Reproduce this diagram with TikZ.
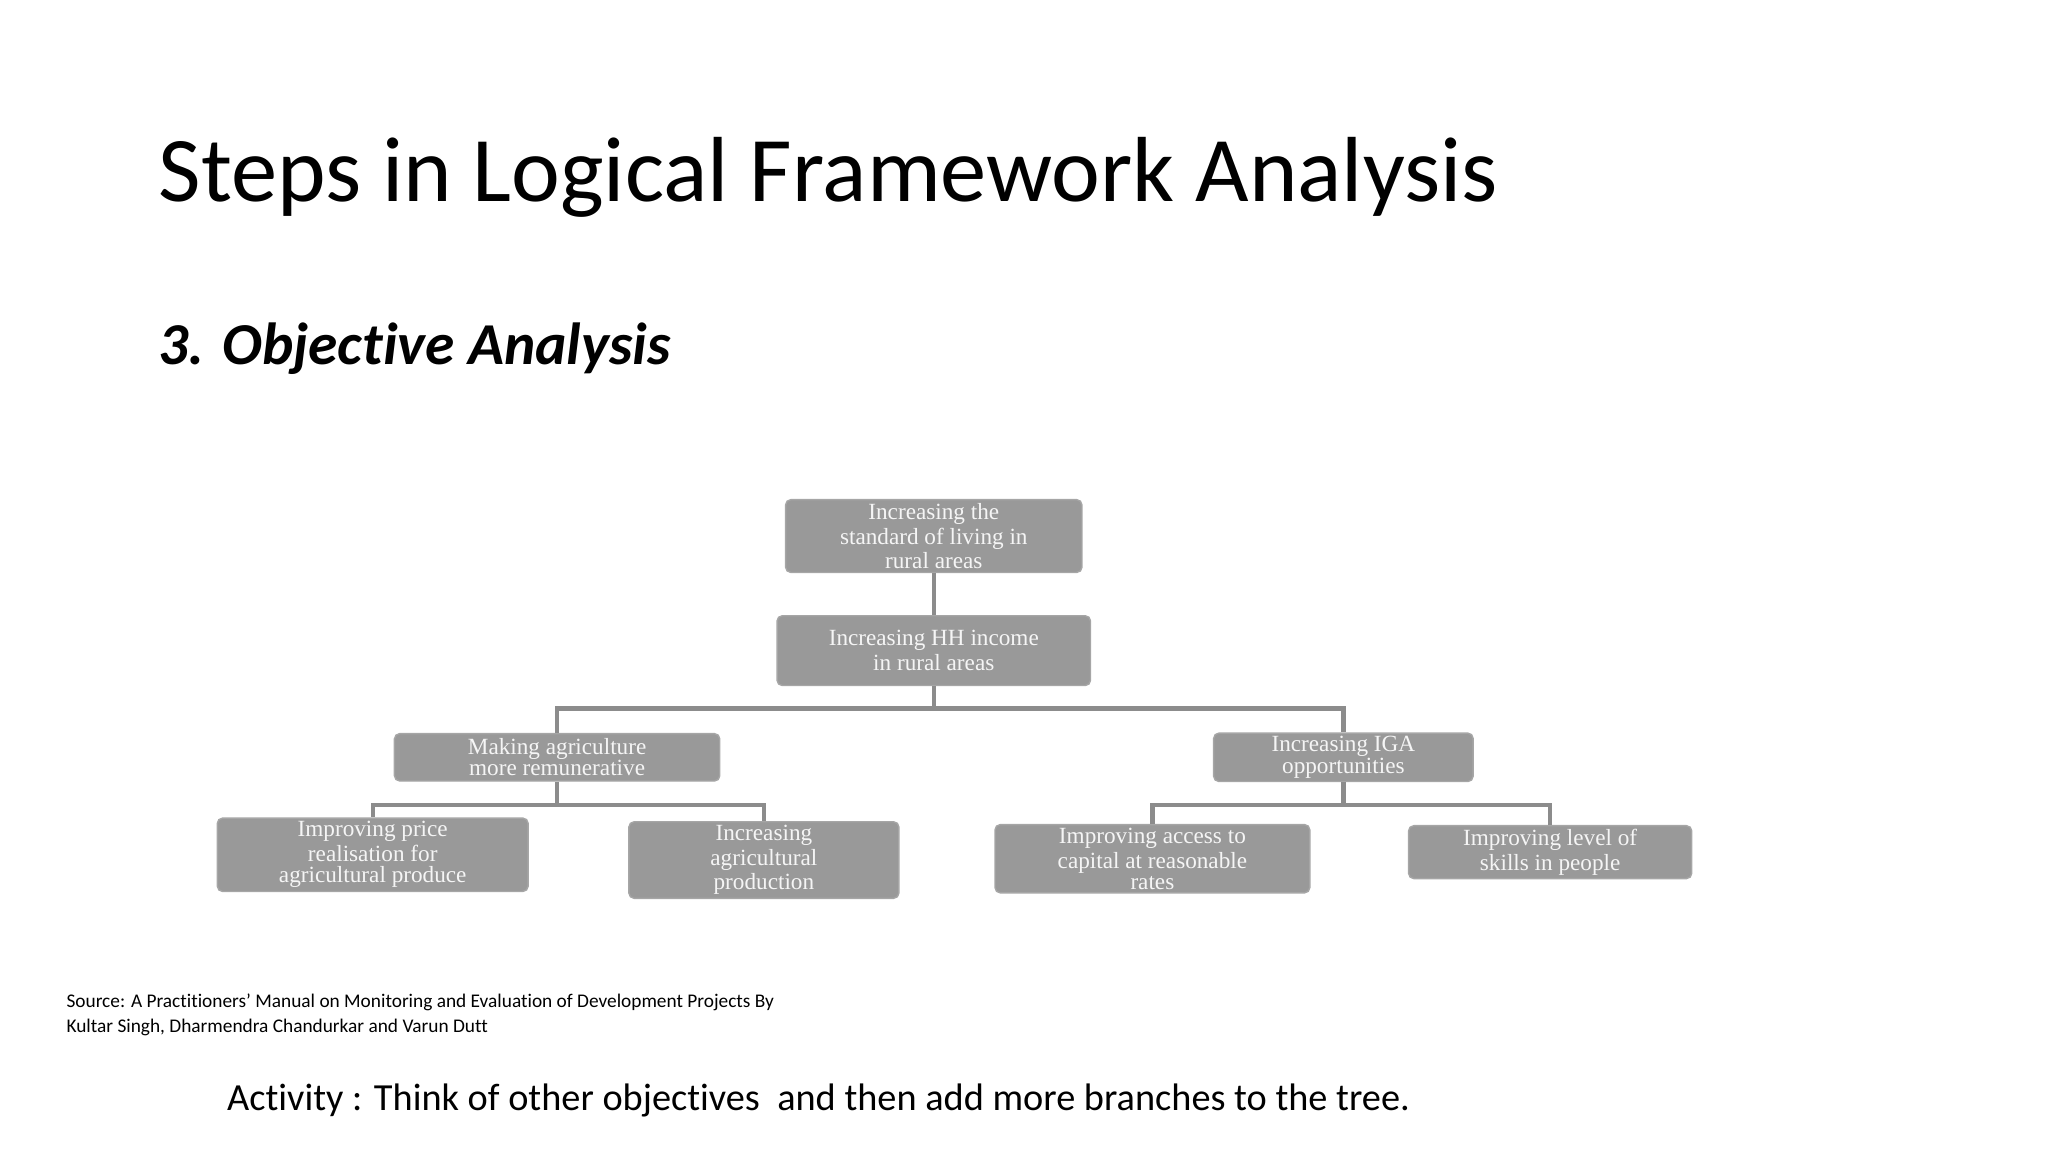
\documentclass[tikz,border=0pt]{standalone}
\usepackage{fontspec}
\setmainfont{Carlito}[Ligatures=NoCommon]
\newfontfamily\boxfont{Liberation Serif}
\begin{document}
\begin{tikzpicture}[x=0.01317cm,y=-0.01317cm,
  bx/.style={draw=gray!70,fill=black!40,rounded corners=1.5pt,align=center,text=white!92!gray,
    font=\boxfont\fontsize{6.6pt}{6pt}\selectfont,inner sep=1pt},
  ln/.style={draw=black!45,line width=1.2pt}]
\def\u{0.3747pt}
\useasboundingbox (0,0) rectangle (1555,875);
\node[anchor=base west,inner sep=0,font=\fontsize{26.3pt}{30pt}\selectfont] (title) at (120,153) {Steps in Logical Framework Analysis};
\node[anchor=base west,inner sep=0,font=\fontsize{16.9pt}{20pt}\selectfont\bfseries\itshape] (sub) at (120,277) {3. Objective Analysis};
\node[bx,minimum width=225*\u,minimum height=52*\u] (a) at (709,407) {Increasing the\\standard of living in\\rural areas};
\node[bx,minimum width=238*\u,minimum height=53*\u] (b) at (709,494) {Increasing HH income\\in rural areas};
\node[bx,minimum width=247*\u,minimum height=36*\u] (c) at (423,575) {Making agriculture\\more remunerative};
\node[bx,minimum width=197*\u,minimum height=36*\u] (d) at (1020,575) {Increasing IGA\\opportunities};
\node[bx,minimum width=236*\u,minimum height=42*\u] (e) at (283,649) {Improving price\\realisation for\\agricultural produce};
\node[bx,minimum width=205*\u,minimum height=43*\u] (f) at (580,653) {Increasing\\agricultural\\production};
\node[bx,minimum width=239*\u,minimum height=49*\u] (g) at (875,652) {Improving access to\\capital at  reasonable\\rates};
\node[bx,minimum width=215*\u,minimum height=39*\u] (h) at (1177,647) {Improving level of\\skills in people};
\draw[ln] (a) -- (b);
\draw[ln] (b.south) |- (709,538) -| (c.north);
\draw[ln] (709,538) -| (d.north);
\draw[ln] (c.south) |- (423,611) -| (e.north);
\draw[ln] (423,611) -| (f.north);
\draw[ln] (d.south) |- (1020,611) -| (g.north);
\draw[ln] (1020,611) -| (h.north);
\node[anchor=north west,align=left,font=\fontsize{5.5pt}{7pt}\selectfont,inner sep=0] (src) at (50,754) {Source: A Practitioners' Manual on Monitoring and Evaluation of Development Projects By\\Kultar Singh, Dharmendra Chandurkar and Varun Dutt};
\node[anchor=base west,font=\fontsize{10.9pt}{12pt}\selectfont,inner sep=0] (act) at (172,843) {Activity : Think of other objectives~ and then add more branches to the tree.};
\end{tikzpicture}
\end{document}
